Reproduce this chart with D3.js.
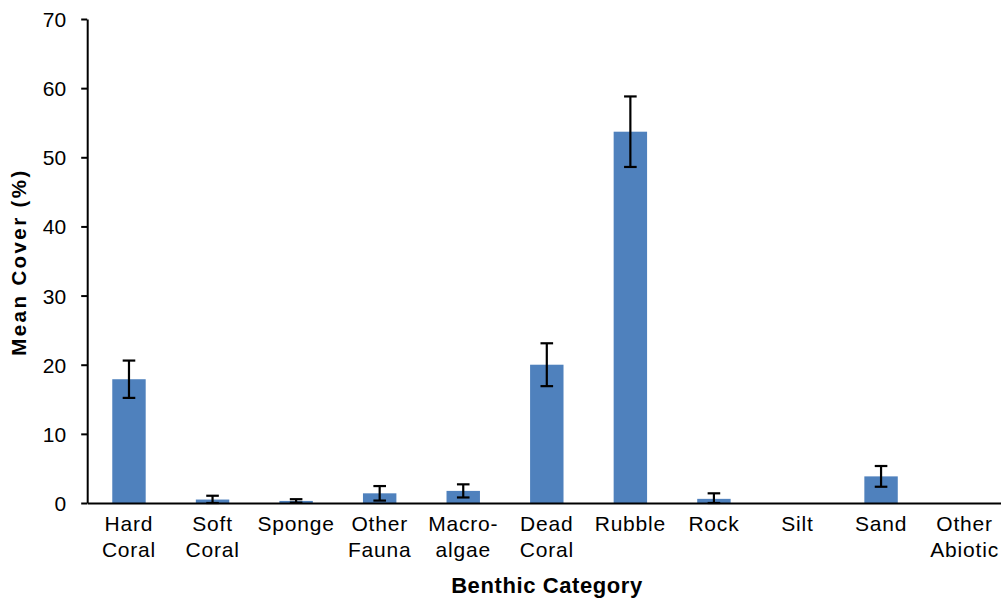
<!DOCTYPE html>
<html>
<head>
<meta charset="utf-8">
<script src="https://cdn.jsdelivr.net/npm/d3@7"></script>
<style>
  html, body { margin: 0; padding: 0; background: #fff; }
  svg { display: block; }
  text { font-family: "Liberation Sans", Arial, sans-serif; fill: #000; }
</style>
</head>
<body>
<svg id="chart" width="1001" height="600"></svg>
<script>
// Benthic categories (one per bar)
const categories = ["Hard Coral", "Soft Coral", "Sponge", "Other Fauna", "Macro-algae",
  "Dead Coral", "Rubble", "Rock", "Silt", "Sand", "Other Abiotic"];
// Category labels as they wrap under the axis
const labelLines = [["Hard", "Coral"], ["Soft", "Coral"], ["Sponge"], ["Other", "Fauna"],
  ["Macro-", "algae"], ["Dead", "Coral"], ["Rubble"], ["Rock"], ["Silt"], ["Sand"],
  ["Other", "Abiotic"]];
// Mean cover (%) and its error (±)
const meanCover = [17.9, 0.5, 0.3, 1.4, 1.75, 20.0, 53.7, 0.6, 0, 3.85, 0];
const errorVals = [2.7, 0.55, 0.25, 1.05, 0.95, 3.1, 5.1, 0.8, 0, 1.5, 0];
// Y axis ticks
const yTicks = [0, 10, 20, 30, 40, 50, 60, 70];

const svg = d3.select("#chart");
const x0 = 87.2, x1 = 1006.4, yTop = 19, yBottom = 503;

const x = d3.scaleBand().domain(categories).range([x0, x1]).padding(0);
const y = d3.scaleLinear().domain([0, 70]).range([yBottom, yTop]);
const barW = x.bandwidth() * 0.4;

const data = categories.map((c, i) => ({ c, v: meanCover[i], e: errorVals[i], lines: labelLines[i] }));

// Bars
svg.append("g").selectAll("rect").data(data).join("rect")
  .attr("x", d => x(d.c) + (x.bandwidth() - barW) / 2)
  .attr("width", barW)
  .attr("y", d => y(d.v))
  .attr("height", d => y(0) - y(d.v))
  .attr("fill", "#4f81bd");

// Error bars
const eb = svg.append("g").attr("stroke", "#000").attr("stroke-width", 2.2);
data.filter(d => d.e > 0).forEach(d => {
  const cx = x(d.c) + x.bandwidth() / 2;
  const lo = Math.max(0, d.v - d.e), hi = d.v + d.e;
  eb.append("line").attr("x1", cx).attr("x2", cx).attr("y1", y(hi)).attr("y2", y(lo));
  eb.append("line").attr("x1", cx - 6.3).attr("x2", cx + 6.3).attr("y1", y(hi)).attr("y2", y(hi));
  eb.append("line").attr("x1", cx - 6.3).attr("x2", cx + 6.3).attr("y1", y(lo)).attr("y2", y(lo));
});

// Y axis
const yAxis = svg.append("g").attr("transform", `translate(${x0},0)`)
  .call(d3.axisLeft(y).tickValues(yTicks).tickSize(6).tickPadding(15).tickSizeOuter(0));
yAxis.select(".domain").attr("stroke", "#000").attr("stroke-width", 2);
yAxis.selectAll(".tick line").attr("stroke", "#000").attr("stroke-width", 2);
yAxis.selectAll(".tick text").attr("font-size", 21).attr("font-family", "Liberation Sans, Arial, sans-serif")
  .attr("dy", "0.36em");

// X axis (line only, labels wrapped below)
const xAxis = svg.append("g").attr("transform", `translate(0,${yBottom})`)
  .call(d3.axisBottom(x).tickSize(0).tickFormat(""));
xAxis.select(".domain").attr("stroke", "#000").attr("stroke-width", 2);

const lbl = svg.append("g").attr("font-size", 21).attr("letter-spacing", "0.8px").attr("text-anchor", "middle");
data.forEach(d => {
  const t = lbl.append("text").attr("x", x(d.c) + x.bandwidth() / 2).attr("y", 531);
  d.lines.forEach((s, k) => {
    t.append("tspan").attr("x", x(d.c) + x.bandwidth() / 2).attr("y", 531 + k * 25.7).text(s);
  });
});

// Axis titles
svg.append("text").attr("x", 547).attr("y", 592.5).attr("text-anchor", "middle")
  .attr("font-size", 22).attr("font-weight", "bold").attr("letter-spacing", "0.6px")
  .text("Benthic Category");
svg.append("text").attr("transform", "translate(26,262) rotate(-90)").attr("text-anchor", "middle")
  .attr("font-size", 20.5).attr("font-weight", "bold").attr("letter-spacing", "2.4px")
  .text("Mean Cover (%)");
</script>
</body>
</html>
